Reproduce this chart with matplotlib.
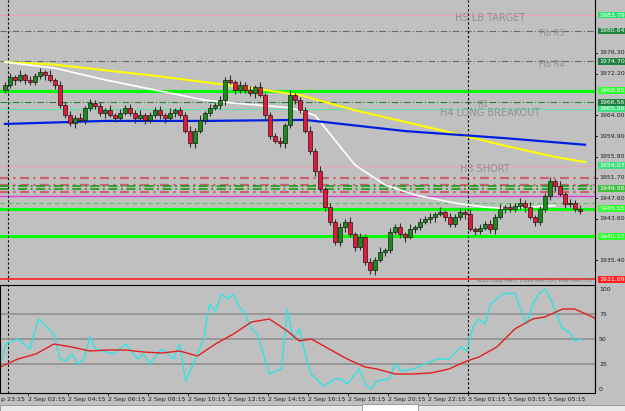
import matplotlib
matplotlib.use("Agg")
import matplotlib.pyplot as plt
import matplotlib.transforms as mtrans
import numpy as np

closes = [1970, 1971.5, 1971, 1972, 1971, 1970.5, 1971.8, 1972.5, 1972, 1971, 1970,
          1966, 1964, 1962.5, 1963.5, 1963,
          1965.5, 1966.5, 1965.8, 1964.5,
          1965, 1964, 1963.5, 1964.5, 1965.5, 1964.5, 1963.5, 1964, 1963, 1964, 1965, 1964, 1963.5, 1964.5, 1965, 1964,
          1961, 1958.5, 1961, 1963,
          1964.5, 1965.5, 1966, 1967,
          1971, 1970.5, 1969, 1970,
          1969, 1968.5, 1969.5, 1968, 1964,
          1960, 1959, 1958.5, 1962,
          1968, 1967, 1965,
          1961, 1957, 1953, 1949.5, 1946,
          1943, 1939, 1942, 1943, 1940.5,
          1938, 1940, 1935, 1933.5, 1935.5,
          1937, 1937.5, 1941, 1942, 1940.5,
          1940, 1941.5, 1942, 1943, 1943.5,
          1944, 1944.5, 1945, 1944, 1942.5,
          1944, 1945, 1944.5, 1941.5, 1941.2,
          1941.8, 1942.5, 1941.5, 1944, 1945.5,
          1946, 1945.5, 1946.2, 1946.8, 1946,
          1944, 1943, 1945.5, 1948, 1951,
          1950, 1948.5, 1946.5, 1946.8, 1945.5, 1945.2]
first_open = 1969
wick_up = [0.6, 0.8, 0.5, 1.0, 0.4, 0.7]
wick_dn = [0.5, 0.7, 1.0, 0.4, 0.8, 0.6]

yellow_idx = [0, 10, 19, 30, 49, 59, 70, 87, 100, 110, 116]
yellow_val = [1974.5, 1974.0, 1973.0, 1971.8, 1969.4, 1968.0, 1965.0, 1961.1, 1958.0, 1955.8, 1954.8]
white_idx = [0, 10, 20, 30, 40, 46, 57, 62, 66, 70, 76, 82, 90, 96, 100, 110]
white_val = [1974.5, 1973.3, 1971.0, 1969.0, 1967.0, 1966.4, 1965.5, 1964.0, 1959.1, 1954.2, 1950.3, 1948.3, 1946.7, 1945.9, 1945.6, 1946.2]
blue_idx = [0, 20, 40, 60, 80, 100, 116]
blue_val = [1962.3, 1962.9, 1962.9, 1963.1, 1960.9, 1959.5, 1958.2]

cyan_x = [0,5,15,25,32,45,50,55,60,65,70,75,80,95,105,115,120,125,135,145,150,155,165,170,175,180,185,190,195,200,205,210,215,225,235,240,245,250,255,260,270,280,285,290,300,305,310,315,325,330,335,345,355,365,375,385,390,395,400,405,410,415,420,430,435,440,445,450,455,460,465,470,475,480,485]
cyan_v = [25,45,50,40,70,55,30,28,35,25,30,52,40,35,45,30,35,25,40,30,45,8,35,50,85,78,95,90,95,82,75,60,55,15,20,80,50,60,35,15,3,10,10,5,20,5,0,8,10,25,18,20,25,30,30,42,38,62,70,65,85,90,95,96,80,65,85,95,100,90,75,60,58,48,50]
red_x = [0,15,30,45,60,75,90,105,120,135,150,165,180,195,210,225,240,250,260,275,290,305,315,330,345,360,375,390,400,415,430,445,455,470,480,495,500]
red_v = [22,30,35,45,42,38,39,39,37,36,38,33,45,55,67,70,58,48,50,40,30,22,20,15,15,16,20,28,32,42,60,70,72,80,80,72,68]

tick_labels = ["2 Sep 02:15", "2 Sep 04:15", "2 Sep 06:15", "2 Sep 08:15", "2 Sep 10:15",
               "2 Sep 12:15", "2 Sep 14:15", "2 Sep 16:15", "2 Sep 18:15", "2 Sep 20:15",
               "2 Sep 22:15", "3 Sep 01:15", "3 Sep 03:15", "3 Sep 05:15"]
price_ticks = [1976.30, 1972.20, 1964.00, 1959.90, 1955.80, 1951.70, 1947.60, 1943.60, 1935.40]

W, H = 625, 411
BG = "#c0c0c0"
FS = 4.5
fig = plt.figure(figsize=(6.25, 4.11), dpi=100, facecolor=BG)
ax = fig.add_axes([0, 1 - 282 / H, 595 / W, 282 / H], facecolor=BG)
ai = fig.add_axes([0, 1 - 393 / H, 595 / W, 108 / H], facecolor=BG)

ax.set_xlim(-1, 118)
ax.set_ylim(1931.13, 1986.75)

def hl(y, c, lw=1, ls="-"):
    ax.axhline(y, color=c, lw=lw, ls=ls, zorder=1)
hl(1983.79, "#f0a0b0", 0.8)
hl(1980.64, "#607060", 0.8, (0, (6, 2, 1, 2)))
hl(1974.70, "#607060", 0.8, (0, (6, 2, 1, 2)))
hl(1968.85, "#00ff00", 2.2)
hl(1966.56, "#208040", 0.8, (0, (6, 2, 1, 2)))
hl(1965.26, "#60e0a0", 0.8)
hl(1954.07, "#f0a0b0", 0.8)
for y in [1951.7, 1950.3, 1948.9]:
    hl(y, "#d06070", 1.6, (0, (4, 2, 1, 2)))
for y in [1949.56, 1950.0]:
    hl(y, "#20a020", 1.3, (0, (5, 2, 1, 2)))
hl(1948.0, "#e040e0", 1.0)
hl(1946.8, "#40d040", 0.8, (0, (4, 3)))
hl(1945.55, "#00ff00", 2.2)
hl(1940.17, "#00ff00", 2.2)
hl(1931.69, "#ff2020", 1.2)
for x in [0.5, 92.5]:
    ax.axvline(x, color="black", lw=0.8, ls=(0, (2, 2)), zorder=2)
    ai.axvline((5 + 5 * x) * 497 / 595, color="black", lw=0.8, ls=(0, (2, 2)))

txt = dict(color="#909090", fontsize=7, zorder=3)
ax.text(90, 1982.6, "H5 LB TARGET", **txt)
ax.text(112, 1979.6, "Fib R5", color="#909090", fontsize=6, zorder=3, ha="right")
ax.text(112, 1973.6, "Fib R4", color="#909090", fontsize=6, zorder=3, ha="right")
ax.text(94.5, 1965.7, "R1", color="#909090", fontsize=6)
ax.text(87, 1963.8, "H4 LONG BREAKOUT", **txt)
ax.text(91, 1952.8, "H3 SHORT", **txt)

ax.plot(yellow_idx, yellow_val, color="#ffff00", lw=1.5, zorder=4)
ax.plot(white_idx, white_val, color="white", lw=1.2, zorder=4)
ax.plot(blue_idx, blue_val, color="#0020e0", lw=1.6, zorder=4)

opens = [first_open] + closes[:-1]
for i, (o, c) in enumerate(zip(opens, closes)):
    hi = max(o, c) + wick_up[i % len(wick_up)]
    lo = min(o, c) - wick_dn[i % len(wick_dn)]
    ax.vlines(i, lo, hi, color="#303030", lw=0.8, zorder=5)
    col = "#1a8a1a" if c >= o else "#e01a3a"
    ax.bar(i, max(abs(c - o), 0.15), bottom=min(o, c), width=0.65, color=col,
           edgecolor="black", lw=0.4, zorder=6)

ax.set_xticks([]); ax.set_yticks([])
for s in ax.spines.values():
    s.set_visible(False)

tr = mtrans.blended_transform_factory(fig.transFigure, ax.transData)
for p in price_ticks:
    fig.text(599 / W, p, f"{p:.2f}", transform=tr, fontsize=FS, va="center", color="#202020")
    fig.add_artist(plt.Line2D([595 / W, 597 / W], [p, p], transform=tr, color="black", lw=0.6))
boxes = [(1983.79, "#30e070"), (1980.64, "#208040"), (1974.70, "#208040"), (1968.85, "#30ff30"),
         (1966.56, "#208040"), (1965.26, "#40e080"), (1954.07, "#40e080"), (1949.56, "#40c040"),
         (1945.55, "#30ff30"), (1940.17, "#30ff30"), (1931.69, "#ff2020")]
for p, c in boxes:
    fig.text(599 / W, p, f"{p:.2f}", transform=tr, fontsize=FS, va="center", color="white",
             bbox=dict(boxstyle="square,pad=0.15", fc=c, ec="none"))
fig.add_artist(plt.Line2D([595 / W, 595 / W], [1 - 393 / H, 1], color="black", lw=0.8))

ai.set_xlim(0, 497)
ai.set_ylim(-4, 104)
for v in [25, 50, 75]:
    ai.axhline(v, color="#909090", lw=1.2)
ai.plot(cyan_x, cyan_v, color="#20e8e8", lw=0.9)
ai.plot(red_x, red_v, color="#e02020", lw=1.0)
ai.set_xticks([]); ai.set_yticks([])
for s in ai.spines.values():
    s.set_color("black"); s.set_linewidth(0.8)
ai.text(0.8, 1.03, "Stoch Loop Alert: Email Alert Off, Push Alert Off", transform=ai.transAxes,
        fontsize=3.5, color="#707070")
tri = mtrans.blended_transform_factory(fig.transFigure, ai.transData)
for v in [0, 25, 50, 75, 100]:
    fig.text(599 / W, v, str(v), transform=tri, fontsize=FS, va="center", color="#202020")

for k, lab in enumerate(tick_labels):
    x = 28 + 40 * k
    fig.text(x / W, 1 - 399 / H, lab, fontsize=FS, va="center", color="#202020")
    fig.add_artist(plt.Line2D([x / W, x / W], [1 - 395 / H, 1 - 393 / H], color="black", lw=0.6))
fig.text(1 / W, 1 - 399 / H, "p 23:15", fontsize=FS, va="center", color="#202020")

fig.add_artist(plt.Rectangle((0, 0), 1, 6 / H, transform=fig.transFigure, fc="#e8e8e8", ec="#808080", lw=0.5))
fig.add_artist(plt.Rectangle((362 / W, 0), 56 / W, 7 / H, transform=fig.transFigure, fc="white", ec="#808080", lw=0.5))

fig.savefig("out.png", dpi=100, facecolor=BG)
